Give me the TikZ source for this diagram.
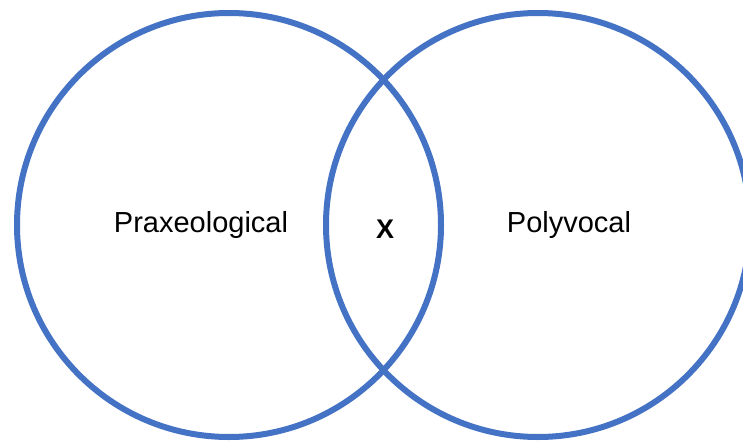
\documentclass[tikz,border=0pt]{standalone}
\usepackage{fontspec}
\setmainfont{Liberation Sans}
\usepackage{tikz}
\usetikzlibrary{positioning}
\definecolor{vennblue}{HTML}{4472C4}
\tikzset{
  set/.style={circle,draw=vennblue,line width=6pt,inner sep=0pt,minimum size=424pt},
  lb/.style={font=\fontsize{29}{33}\selectfont,inner sep=0pt},
  lbx/.style={font=\fontsize{27}{32}\selectfont\bfseries,inner sep=0pt},
}

\begin{document}
\begin{tikzpicture}[x=1pt,y=-1pt]
\useasboundingbox (0,0) rectangle (743,441);
\clip (0,0) rectangle (743,441);
% ---------------- the two sets
\node[set] (prax) at (229,225) {};
\node[set] (poly) at (538,225) {};
% ---------------- labels
\node[lb] (praxlb) at (201,225) {Praxeological};
\node[lb] (polylb) at (569,225) {Polyvocal};
\node[lbx] (both) at (385,229) {X};
\end{tikzpicture}
\end{document}
